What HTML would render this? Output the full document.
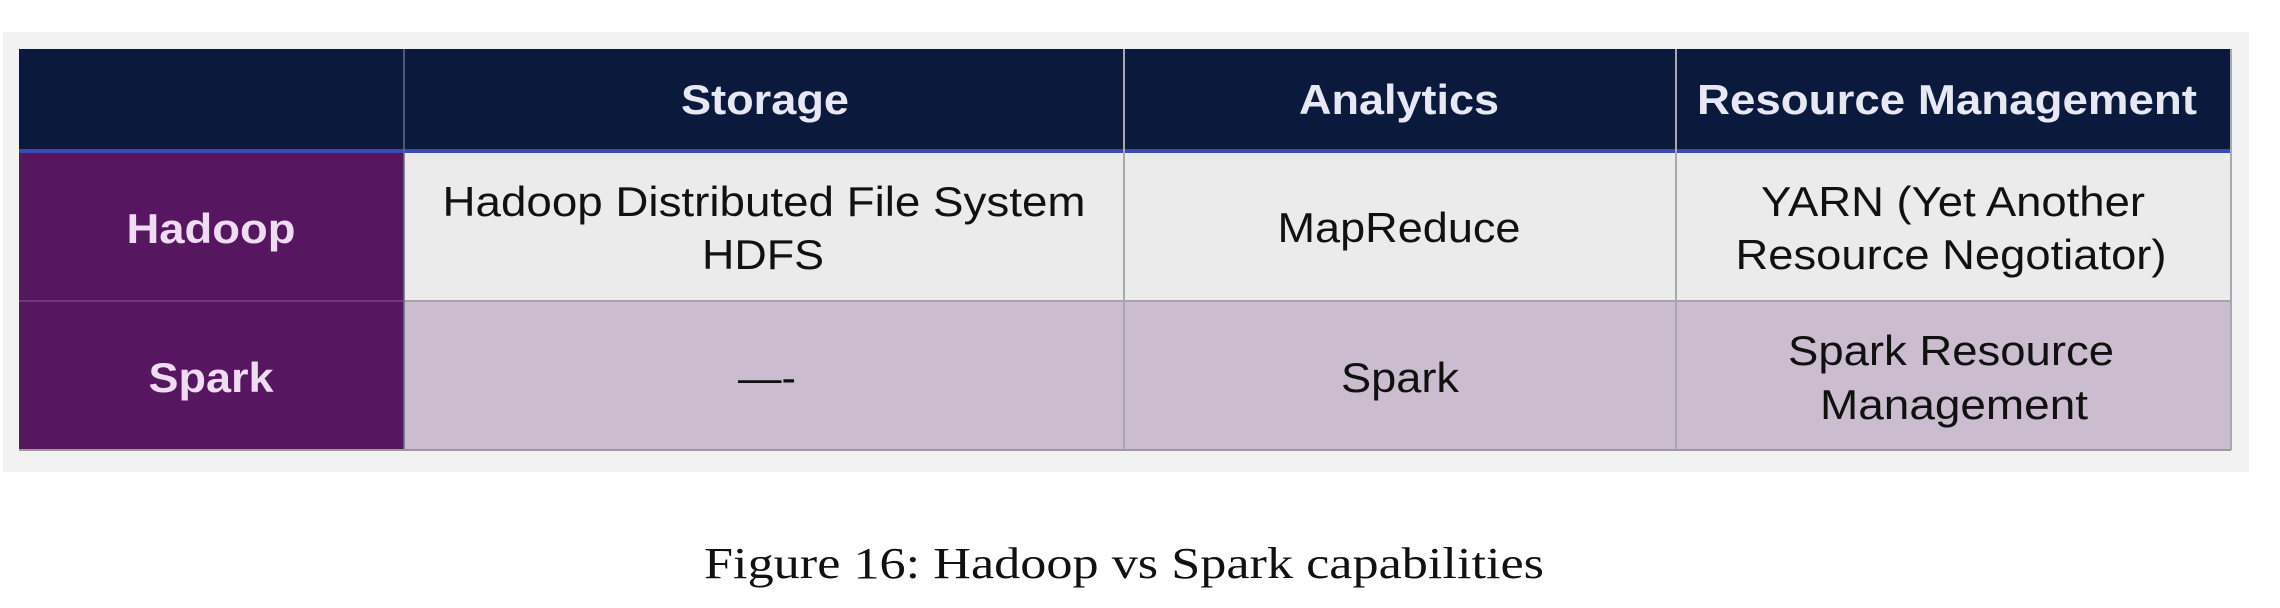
<!DOCTYPE html>
<html><head><meta charset="utf-8"><style>
html,body{margin:0;padding:0;background:#fff;}
svg{display:block;}
</style></head><body>
<svg width="2280" height="608" viewBox="0 0 2280 608" xmlns="http://www.w3.org/2000/svg" font-family="Liberation Sans, Arial, sans-serif">
<rect x="3" y="32" width="2246" height="440" fill="#f3f2f2"/>
<rect x="19" y="49" width="2212" height="101" fill="#0b1a3c"/>
<rect x="19" y="149" width="2212" height="4" fill="#3a48b8"/>
<rect x="19" y="153" width="385" height="297" fill="#561660"/>
<rect x="404" y="153" width="1827" height="148" fill="#ebebeb"/>
<rect x="404" y="301" width="1827" height="149" fill="#cbbccf"/>
<line x1="19" y1="301" x2="404" y2="301" stroke="#6e3a78" stroke-width="2"/>
<line x1="404" y1="301" x2="2231" y2="301" stroke="#a9a1ad" stroke-width="2"/>
<line x1="404" y1="49" x2="404" y2="450" stroke="#6a6a8a" stroke-width="1.5"/>
<line x1="1124" y1="49" x2="1124" y2="450" stroke="#a9a6b6" stroke-width="2"/>
<line x1="1676" y1="49" x2="1676" y2="450" stroke="#a9a6b6" stroke-width="2"/>
<line x1="2231" y1="49" x2="2231" y2="450" stroke="#a9a6b6" stroke-width="2"/>
<line x1="19" y1="450" x2="2231" y2="450" stroke="#9d98a4" stroke-width="2"/>
<g fill="#e8e8f4" font-weight="bold" font-size="42" text-anchor="middle">
<text x="765" y="114" textLength="168" lengthAdjust="spacingAndGlyphs">Storage</text>
<text x="1399" y="114" textLength="200" lengthAdjust="spacingAndGlyphs">Analytics</text>
<text x="1947" y="114" textLength="500" lengthAdjust="spacingAndGlyphs">Resource Management</text>
</g>
<g fill="#f0dcf2" font-weight="bold" font-size="42" text-anchor="middle">
<text x="211" y="243" textLength="169" lengthAdjust="spacingAndGlyphs">Hadoop</text>
<text x="211" y="392" textLength="125" lengthAdjust="spacingAndGlyphs">Spark</text>
</g>
<g fill="#111" font-size="42" text-anchor="middle">
<text x="764" y="216" textLength="643" lengthAdjust="spacingAndGlyphs">Hadoop Distributed File System</text>
<text x="763" y="269" textLength="122" lengthAdjust="spacingAndGlyphs">HDFS</text>
<text x="1399" y="242" textLength="243" lengthAdjust="spacingAndGlyphs">MapReduce</text>
<text x="1953" y="216" textLength="384" lengthAdjust="spacingAndGlyphs">YARN (Yet Another</text>
<text x="1951" y="269" textLength="431" lengthAdjust="spacingAndGlyphs">Resource Negotiator)</text>
<text x="767" y="392" textLength="58" lengthAdjust="spacingAndGlyphs">—-</text>
<text x="1400" y="392" textLength="118" lengthAdjust="spacingAndGlyphs">Spark</text>
<text x="1951" y="365" textLength="326" lengthAdjust="spacingAndGlyphs">Spark Resource</text>
<text x="1954" y="419" textLength="268" lengthAdjust="spacingAndGlyphs">Management</text>
</g>
<text x="1124" y="578" font-family="Liberation Serif, serif" font-size="44" fill="#111" text-anchor="middle" textLength="840" lengthAdjust="spacingAndGlyphs">Figure 16: Hadoop vs Spark capabilities</text>
</svg>
</body></html>
